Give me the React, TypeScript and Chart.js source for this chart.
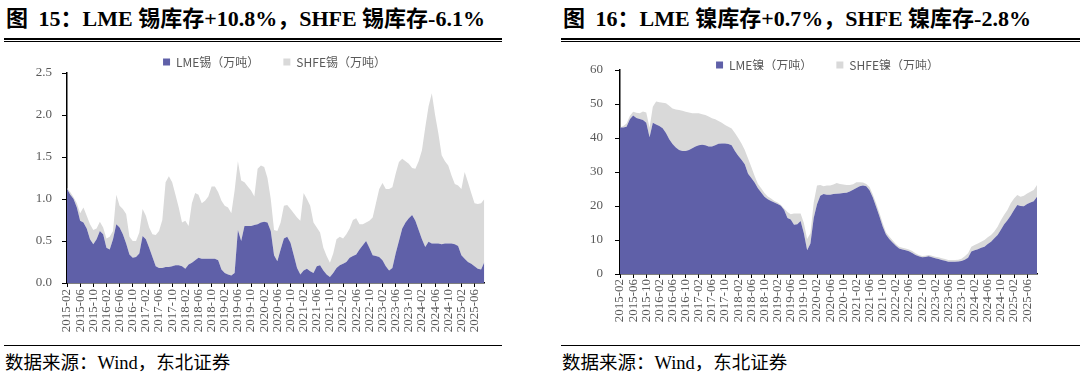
import React, { useEffect, useRef } from "react";
import { Chart, registerables } from "chart.js";

Chart.register(...registerables);

// ---------- categories (monthly, 2015-02 .. 2025-09) ----------
const START_YEAR = 2015;
const START_MONTH = 2;
const MONTH_COUNT = 128;
const months: string[] = [];
for (let i = 0; i < MONTH_COUNT; i++) {
  const m = START_MONTH - 1 + i;
  const y = START_YEAR + Math.floor(m / 12);
  const mm = (m % 12) + 1;
  months.push(`${y}-${String(mm).padStart(2, "0")}`);
}
const TICK_EVERY = 4;

// ---------- tin inventory (万吨) ----------
const tinLME = [
  1.12, 1.05, 1.0, 0.9, 0.74, 0.72, 0.65, 0.52, 0.46, 0.52,
  0.62, 0.58, 0.42, 0.4, 0.52, 0.7, 0.66, 0.58, 0.47, 0.34,
  0.3, 0.31, 0.35, 0.56, 0.52, 0.42, 0.31, 0.2, 0.18, 0.18,
  0.19, 0.19, 0.2, 0.21, 0.21, 0.2, 0.17, 0.22, 0.24, 0.27,
  0.3, 0.29, 0.29, 0.29, 0.29, 0.29, 0.27, 0.16, 0.12, 0.1,
  0.09, 0.12, 0.63, 0.5, 0.68, 0.68, 0.68, 0.69, 0.7, 0.72,
  0.73, 0.72, 0.62, 0.33, 0.26, 0.4, 0.53, 0.55, 0.48, 0.33,
  0.18, 0.1, 0.15, 0.17, 0.14, 0.12, 0.2, 0.21, 0.15, 0.1,
  0.07, 0.12, 0.18, 0.21, 0.23, 0.25, 0.3, 0.32, 0.34, 0.4,
  0.45, 0.5, 0.42, 0.33, 0.32, 0.31, 0.27, 0.2, 0.15, 0.18,
  0.35, 0.5, 0.65, 0.72, 0.77, 0.81, 0.74, 0.63, 0.52, 0.43,
  0.49, 0.47, 0.47, 0.47, 0.46, 0.47, 0.47, 0.47, 0.46, 0.44,
  0.33, 0.29, 0.25, 0.23, 0.2, 0.17, 0.16, 0.25,
];
const tinSHFE = [
  0.01, 0.03, 0.02, 0.05, 0.09, 0.18, 0.15, 0.18, 0.17, 0.13,
  0.11, 0.08, 0.11, 0.15, 0.1, 0.35, 0.26, 0.3, 0.35, 0.21,
  0.2, 0.19, 0.25, 0.32, 0.28, 0.24, 0.27, 0.37, 0.44, 0.57,
  1.01, 1.08, 1.0, 0.84, 0.69, 0.52, 0.57, 0.46, 0.71, 0.8,
  0.75, 0.66, 0.69, 0.74, 0.86, 0.86, 0.81, 0.82, 0.8, 0.8,
  0.74, 0.98, 0.82, 0.72, 0.52, 0.47, 0.42, 0.34, 0.66, 0.68,
  0.65, 0.53, 0.38, 0.3, 0.36, 0.32, 0.39, 0.38, 0.4, 0.5,
  0.6, 0.64, 0.92, 0.83, 0.78, 0.6, 0.46, 0.39, 0.27, 0.22,
  0.17, 0.23, 0.34, 0.34, 0.3, 0.33, 0.35, 0.43, 0.43, 0.3,
  0.25, 0.22, 0.32, 0.45, 0.63, 0.81, 0.92, 0.92, 0.97, 0.96,
  0.95, 0.94, 0.83, 0.73, 0.65, 0.56, 0.62, 0.82, 1.06, 1.42,
  1.61, 1.79, 1.53, 1.31, 1.06, 0.98, 0.93, 0.81, 0.72, 0.72,
  0.79, 1.03, 0.95, 0.84, 0.75, 0.77, 0.79, 0.75,
];

// ---------- nickel inventory (万吨) ----------
const nickelLME = [
  43.1, 43.1, 43.3, 45.5, 46.6, 45.9, 45.6, 45.3, 44.5, 40.2,
  44.5, 44.0, 43.5, 42.9, 41.5, 39.6, 38.2, 37.2, 36.5, 36.2,
  36.2, 36.5, 37.0, 37.5, 37.9, 38.0, 37.9, 37.5, 37.5, 37.9,
  38.3, 38.4, 38.4, 38.2, 37.9, 36.2, 34.8, 33.6, 32.3, 29.5,
  28.2, 26.9, 25.2, 24.0, 22.7, 22.0, 21.5, 21.0, 20.6, 20.1,
  18.8, 16.5, 16.0, 14.5, 14.6, 15.6, 12.0, 7.0, 9.0, 16.5,
  20.5, 23.0, 23.5, 23.3, 23.3, 23.5, 23.6, 23.7, 23.8, 23.9,
  24.3, 24.8, 25.3, 25.8, 26.0, 25.8, 24.6, 22.5, 19.8, 17.0,
  14.0, 11.6, 10.3, 9.3, 8.3, 7.5, 7.2, 7.0, 6.7, 6.2,
  5.6, 5.2, 4.9, 5.0, 5.2, 4.9, 4.6, 4.4, 4.1, 3.9,
  3.6, 3.6, 3.6, 3.7, 3.8, 4.2, 4.8, 6.6, 7.0, 7.3,
  7.7, 8.0, 8.8, 9.5, 10.5, 11.5, 13.0, 14.6, 15.8, 17.2,
  18.8, 20.3, 20.0, 19.9, 20.6, 21.0, 21.4, 22.7,
];
const nickelSHFE = [
  0.0, 0.4, 1.0, 1.0, 1.1, 1.5, 1.7, 2.5, 3.0, 2.8,
  4.7, 6.7, 7.0, 7.5, 8.7, 9.9, 10.5, 11.2, 11.7, 11.8,
  11.5, 11.0, 10.3, 9.8, 9.4, 9.0, 8.9, 8.8, 8.3, 7.6,
  6.7, 6.1, 5.4, 5.1, 4.9, 5.3, 5.2, 4.8, 4.2, 4.5,
  3.3, 1.9, 1.3, 1.2, 1.1, 0.8, 0.7, 0.5, 0.4, 0.2,
  0.5, 1.7, 1.6, 3.3, 3.2, 2.2, 3.0, 3.3, 3.0, 4.5,
  5.5, 3.2, 2.3, 2.7, 2.7, 2.8, 3.2, 2.8, 2.5, 2.3,
  1.9, 1.6, 1.7, 1.2, 0.9, 0.7, 1.0, 0.9, 1.0, 1.0,
  1.0, 0.7, 0.7, 0.6, 0.5, 0.5, 0.5, 0.5, 0.5, 0.6,
  0.5, 0.4, 0.4, 0.4, 0.4, 0.5, 0.5, 0.5, 0.5, 0.5,
  0.5, 0.5, 0.5, 0.5, 0.7, 1.0, 1.3, 1.4, 1.5, 1.7,
  1.8, 2.0, 2.0, 2.0, 2.0, 2.4, 2.8, 2.8, 3.0, 3.6,
  3.4, 2.9, 2.7, 3.1, 3.1, 3.2, 3.3, 3.5,
];

const BLUE = "#5F60A8";
const GREY = "#D9D9D9";
const TICK_COLOR = "#595959";
const SERIF = '"Liberation Serif", "Times New Roman", "Noto Sans CJK SC", serif';
const LEGEND_FONT = '"Noto Sans CJK SC", "DejaVu Sans", sans-serif';

// shifts the (full-width) legend horizontally after layout
const legendShift = {
  id: "legendShift",
  afterLayout(chart: any, _args: any, opts: any) {
    const lg = chart.legend;
    if (lg && opts && opts.dx) {
      lg.left += opts.dx;
      lg.right += opts.dx;
    }
  },
};

type AreaProps = {
  left: number;
  top: number;
  width: number;
  height: number;
  padR: number;
  yW: number;
  xH: number;
  legendH: number;
  legendDx: number;
  yMax: number;
  yStep: number;
  decimals: number;
  yPad: number;
  xPad: number;
  lme: number[];
  shfe: number[];
  lmeLabel: string;
  shfeLabel: string;
};

function AreaChart(p: AreaProps) {
  const ref = useRef<HTMLCanvasElement>(null);
  useEffect(() => {
    const chart = new Chart(ref.current as HTMLCanvasElement, {
      type: "line",
      data: {
        labels: months,
        datasets: [
          {
            label: p.lmeLabel,
            data: p.lme,
            backgroundColor: BLUE,
            borderColor: "rgba(0,0,0,0)",
            borderWidth: 0,
            pointRadius: 0,
            fill: "origin",
          },
          {
            label: p.shfeLabel,
            data: p.shfe,
            backgroundColor: GREY,
            borderColor: "rgba(0,0,0,0)",
            borderWidth: 0,
            pointRadius: 0,
            fill: "-1",
          },
        ],
      },
      plugins: [legendShift as any],
      options: {
        animation: false,
        responsive: false,
        layout: { padding: { left: 0, right: p.padR, top: 0, bottom: 0 } },
        plugins: {
          legend: {
            position: "top",
            maxHeight: p.legendH,
            labels: {
              boxWidth: 7,
              boxHeight: 7,
              padding: 24,
              color: TICK_COLOR,
              font: { family: LEGEND_FONT, size: 12 },
            },
          } as any,
          legendShift: { dx: p.legendDx },
          tooltip: { enabled: false },
        } as any,
        scales: {
          x: {
            ticks: {
              autoSkip: false,
              maxRotation: 90,
              minRotation: 90,
              padding: p.xPad,
              color: TICK_COLOR,
              font: { family: SERIF, size: 13 },
              callback: (_v: any, i: number) => (i % TICK_EVERY === 0 ? months[i] : ""),
            },
            grid: {
              drawOnChartArea: false,
              drawTicks: true,
              tickLength: 4,
              tickColor: (ctx: any) => (ctx.index % TICK_EVERY === 0 ? "#000" : "rgba(0,0,0,0)"),
            },
            border: { display: true, color: "#000", width: 1.5 },
            afterFit: (s: any) => {
              s.height = p.xH;
            },
          },
          y: {
            stacked: true,
            min: 0,
            max: p.yMax,
            ticks: {
              stepSize: p.yStep,
              padding: p.yPad,
              color: TICK_COLOR,
              font: { family: SERIF, size: 13 },
              callback: (v: any) => Number(v).toFixed(p.decimals),
            },
            grid: { drawOnChartArea: false, drawTicks: true, tickLength: 5, tickColor: "#000" },
            border: { display: true, color: "#000", width: 1.5 },
            afterFit: (s: any) => {
              s.width = p.yW;
            },
          },
        },
      },
    });
    return () => chart.destroy();
  }, []);
  return (
    <canvas
      ref={ref}
      width={p.width}
      height={p.height}
      style={{ position: "absolute", left: p.left, top: p.top, width: p.width, height: p.height }}
    />
  );
}

function Panel(props: { x: number; lineW: number; titleRest: string }) {
  return (
    <>
      <div
        style={{
          position: "absolute",
          left: props.x + 2,
          top: 6,
          fontFamily: SERIF,
          fontWeight: "bold",
          fontSize: 22,
          lineHeight: "26px",
          whiteSpace: "nowrap",
          color: "#000",
        }}
      >
        <span>图</span> <span style={{ marginLeft: 5 }}>{props.titleRest}</span>
      </div>
      <div style={{ position: "absolute", left: props.x, top: 38, width: props.lineW, height: 2, background: "#000" }} />
      <div style={{ position: "absolute", left: props.x, top: 41, width: props.lineW, height: 1, background: "#000" }} />
      <div style={{ position: "absolute", left: props.x, top: 345, width: props.lineW, height: 1, background: "#000" }} />
      <div
        style={{
          position: "absolute",
          left: props.x + 1,
          top: 350,
          fontFamily: SERIF,
          fontSize: 18.5,
          lineHeight: "26px",
          whiteSpace: "nowrap",
          color: "#000",
        }}
      >
        数据来源：Wind，东北证券
      </div>
    </>
  );
}

export default function App() {
  return (
    <div
      style={{
        position: "fixed",
        left: 0,
        top: 0,
        width: 1080,
        height: 378,
        background: "#fff",
        overflow: "hidden",
      }}
    >
      <Panel x={4} lineW={498} titleRest="15：LME 锡库存+10.8%，SHFE 锡库存-6.1%" />
      <Panel x={561} lineW={519} titleRest="16：LME 镍库存+0.7%，SHFE 镍库存-2.8%" />
      <AreaChart
        left={25}
        top={32}
        width={477}
        height={308}
        padR={6}
        yW={42}
        xH={57}
        legendH={41}
        legendDx={14}
        yMax={2.5}
        yStep={0.5}
        decimals={1}
        yPad={10}
        xPad={2}
        lme={tinLME}
        shfe={tinSHFE}
        lmeLabel="LME锡（万吨）"
        shfeLabel="SHFE锡（万吨）"
      />
      <AreaChart
        left={560}
        top={35}
        width={520}
        height={305}
        padR={43}
        yW={60}
        xH={66}
        legendH={35}
        legendDx={29}
        yMax={60}
        yStep={10}
        decimals={0}
        yPad={12}
        xPad={1}
        lme={nickelLME}
        shfe={nickelSHFE}
        lmeLabel="LME镍（万吨）"
        shfeLabel="SHFE镍（万吨）"
      />
    </div>
  );
}
